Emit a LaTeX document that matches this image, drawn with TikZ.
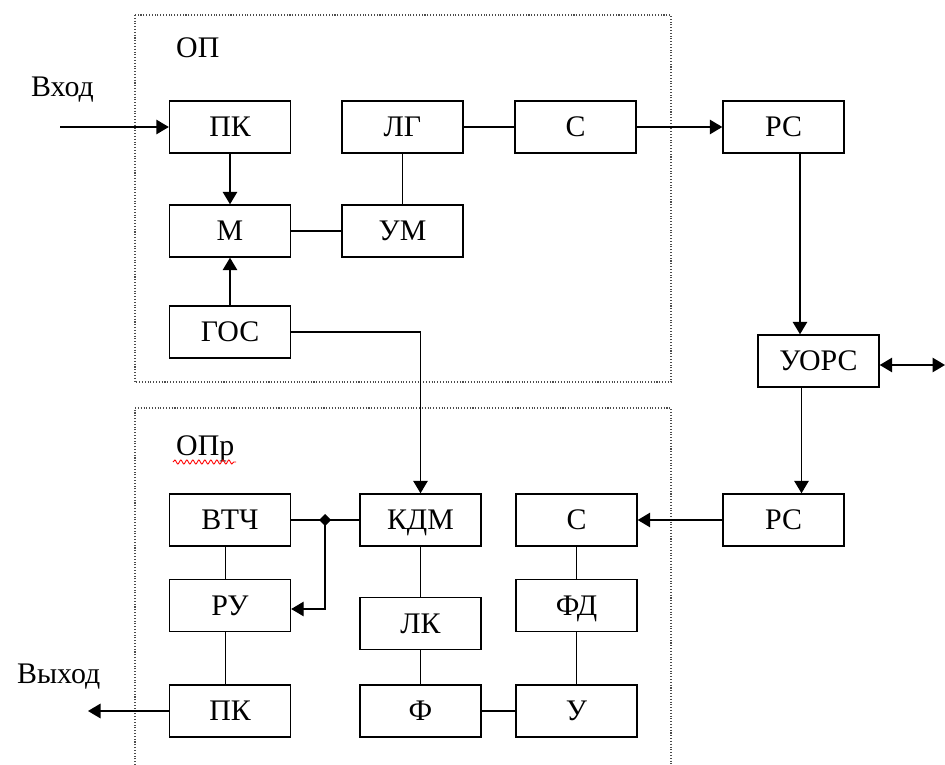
\documentclass[tikz,border=0pt]{standalone}
\usepackage{fontspec}
\setmainfont{Liberation Serif}
\usepackage{tikz}
\usetikzlibrary{positioning,arrows.meta,calc,decorations.pathmorphing}

\begin{document}
\begin{tikzpicture}[font=\fontsize{17}{20}\selectfont,
  blk/.style={draw, line width=0.8pt, minimum width=2.42cm, minimum height=1.04cm, inner sep=0pt,
    text height=11.3pt, text depth=0pt},
  ln/.style={line width=0.8pt},
  tip/.tip={Triangle[length=2.5mm,width=2.9mm]},
  arr/.style={ln, -tip},
  grp/.style={draw=black!70, line width=0.6pt, densely dotted}]
\useasboundingbox (0,0) rectangle (18.9,-15.3);
% transmitting part
\draw[grp] (2.7,-0.3) rectangle (13.42,-7.64);
\node[anchor=base west] (oplbl) at (3.40,-1.16) {ОП};
\node[anchor=base west] (inlbl) at (0.50,-1.94) {Вход};
\node[blk] (pk) at (4.60,-2.54) {ПК};
\node[blk] (lg) at (8.05,-2.54) {ЛГ};
\node[blk] (c) at (11.51,-2.54) {С};
\node[blk] (m) at (4.60,-4.62) {М};
\node[blk] (um) at (8.05,-4.62) {УМ};
\node[blk] (gos) at (4.60,-6.64) {ГОС};
% channel
\node[blk] (rs) at (15.67,-2.54) {РС};
\node[blk] (uors) at (16.37,-7.22) {УОРС};
\node[blk] (rs2) at (15.67,-10.40) {РС};
% receiving part, its bottom edge runs off the page
\draw[grp] (2.7,-15.3) -- (2.7,-8.16) -- (13.42,-8.16) -- (13.42,-15.3);
\node[anchor=base west] (oprlbl) at (3.40,-9.10) {ОПр};
\draw[red, line width=0.5pt, decorate, decoration={snake, amplitude=0.4mm, segment length=1.2mm}]
  (3.46,-9.24) -- (4.72,-9.24);
\node[anchor=base west] (outlbl) at (0.22,-13.66) {Выход};
\node[blk] (vtch) at (4.60,-10.40) {ВТЧ};
\node[blk] (kdm) at (8.41,-10.40) {КДМ};
\node[blk] (c2) at (11.53,-10.40) {С};
\node[blk] (ru) at (4.60,-12.11) {РУ};
\node[blk] (lk) at (8.41,-12.47) {ЛК};
\node[blk] (fd) at (11.53,-12.11) {ФД};
\node[blk] (pk2) at (4.60,-14.22) {ПК};
\node[blk] (f) at (8.41,-14.22) {Ф};
\node[blk] (u) at (11.53,-14.22) {У};
% free ends and the branch point
\coordinate (in) at (1.2,-2.54);
\coordinate (out) at (1.76,-14.22);
\coordinate (ext) at (18.9,-7.26);
\coordinate (j) at (6.50,-10.40);
% connections, top
\draw[arr] (in) -- (pk);
\draw[arr] (pk) -- (m);
\draw[arr] (gos) -- (m);
\draw[ln] (m) -- (um);
\draw[ln] (um) -- (lg);
\draw[ln] (lg) -- (c);
\draw[arr] (c) -- (rs);
\draw[arr] ([xshift=3.3mm]rs.south) -- ([xshift=3.3mm]rs.south |- uors.north);
\draw[ln, tip-tip] ([yshift=-0.8mm]uors.east) -- ([yshift=-0.8mm]uors.east -| ext);
\draw[arr] ([xshift=3.6mm]rs2.north |- uors.south) -- ([xshift=3.6mm]rs2.north);
\draw[arr] (gos.east) -| (kdm.north);
% connections, bottom
\draw[arr] (rs2) -- (c2);
\draw[ln] (c2) -- (fd);
\draw[ln] (fd) -- (u);
\draw[ln] (u) -- (f);
\draw[ln] (f) -- (lk);
\draw[ln] (lk) -- (kdm);
\draw[ln] (kdm) -- (vtch);
\fill (j) +(0,0.12) -- +(0.12,0) -- +(0,-0.12) -- +(-0.12,0) -- cycle;
\draw[arr] (j) |- ([yshift=-0.7mm]ru.east);
\draw[ln] ([xshift=-0.9mm]vtch.south) -- ([xshift=-0.9mm]ru.north);
\draw[ln] ([xshift=-0.9mm]ru.south) -- ([xshift=-0.9mm]pk2.north);
\draw[arr] (pk2) -- (out);
\end{tikzpicture}
\end{document}
